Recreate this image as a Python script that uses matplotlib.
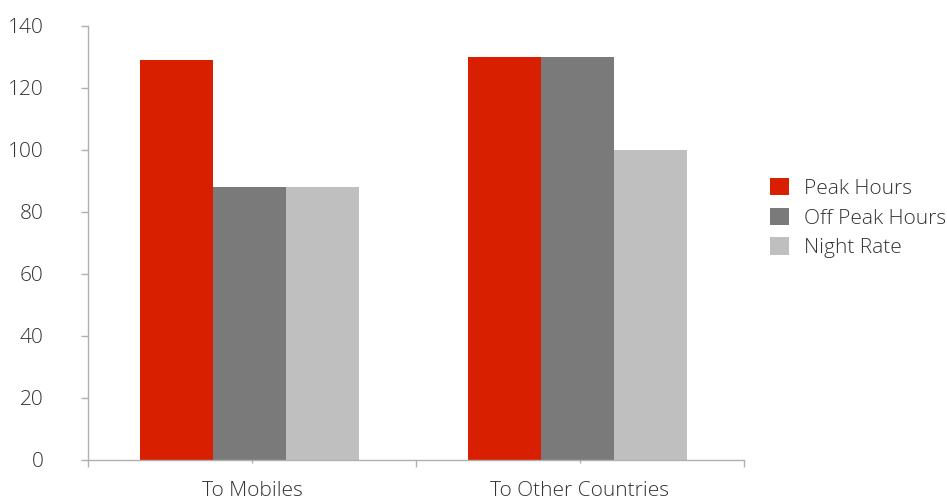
import matplotlib.pyplot as plt
import numpy as np
from matplotlib.ticker import FixedLocator

categories = ['To Mobiles', 'To Other Countries']
series_names = ['Peak Hours', 'Off Peak Hours', 'Night Rate']
peak_hours = [129, 130]
off_peak_hours = [88, 130]
night_rate = [88, 100]
y_ticks = [0, 20, 40, 60, 80, 100, 120, 140]

colors = ['#d81f00', '#7a7a7a', '#bfbfbf']
axis_grey = '#b0b0b0'
text_grey = '#333333'

plt.rcParams['font.family'] = ['Open Sans', 'DejaVu Sans']

fig = plt.figure(figsize=(9.47, 4.99), dpi=100)
ax = fig.add_axes([0.0929, 0.0788, 0.6927, 0.8692])

x = np.arange(len(categories))
width = 2 / 9
offset = -0.008  # groups sit a touch left of the category centre
for i, (name, vals) in enumerate(zip(series_names,
                                     [peak_hours, off_peak_hours, night_rate])):
    ax.bar(x + offset + (i - 1) * width, vals, width, color=colors[i],
           label=name, linewidth=0)

ax.set_xlim(-0.5, len(categories) - 0.5)
ax.set_ylim(0, 140)

# ---- axes styling ---------------------------------------------------------
for side in ('top', 'right'):
    ax.spines[side].set_visible(False)
for side in ('left', 'bottom'):
    ax.spines[side].set_color(axis_grey)
    ax.spines[side].set_linewidth(1.0)

ax.set_yticks(y_ticks)
ax.tick_params(axis='y', direction='out', length=5, width=1.0,
               color=axis_grey, pad=27, labelsize=15, labelcolor=text_grey)

ax.set_xticks(x)
ax.set_xticklabels(categories)
ax.xaxis.set_minor_locator(FixedLocator(np.arange(-0.5, len(categories), 1.0)))
ax.tick_params(axis='x', which='major', direction='out', length=2, width=1.0,
               color=axis_grey, pad=13.5, labelsize=15, labelcolor=text_grey)
ax.tick_params(axis='x', which='minor', direction='out', length=5, width=1.0,
               color=axis_grey)

for lbl in ax.get_xticklabels() + ax.get_yticklabels():
    lbl.set_fontweight('light')

# ---- legend ---------------------------------------------------------------
leg = ax.legend(loc='center left', bbox_to_anchor=(0.813, 0.563),
                bbox_transform=fig.transFigure, frameon=False,
                fontsize=15, handlelength=0.91, handleheight=0.91,
                handletextpad=0.72, labelspacing=0.42, borderpad=0,
                borderaxespad=0)
for t in leg.get_texts():
    t.set_color(text_grey)
    t.set_fontweight('light')

fig.savefig('out.png', dpi=100)
